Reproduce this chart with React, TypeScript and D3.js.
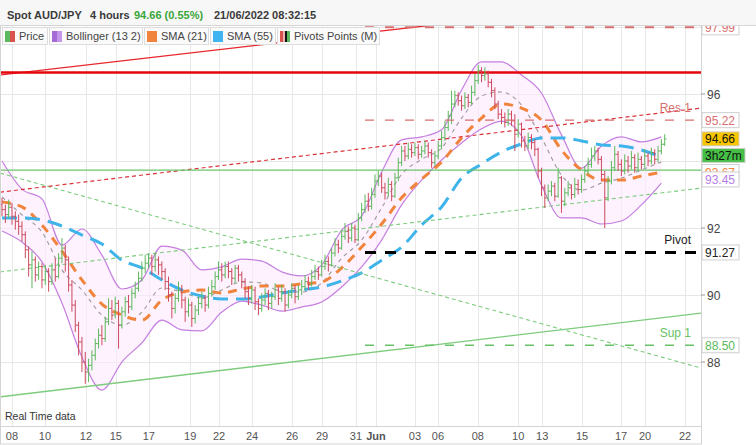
import React from 'react';
import * as d3 from 'd3';

// ---------- DATA ----------
const opens = [
  92.70, 92.55, 92.40, 92.62, 92.35, 92.20, 92.05, 91.80, 91.35, 90.90,
  91.05, 90.60, 90.85, 90.45, 90.70, 90.40, 90.75, 90.55, 91.10, 91.40,
  91.05, 90.30, 89.70, 89.10, 88.60, 88.00, 87.70, 87.90, 88.20, 88.55,
  88.80, 88.70, 89.20, 89.60, 89.40, 89.75, 89.10, 89.50, 89.80, 89.65,
  90.05, 90.20, 90.50, 90.80, 90.95, 91.10, 90.85, 91.05, 90.90, 90.70,
  90.40, 90.00, 89.60, 89.90, 90.15, 89.85, 89.50, 89.70, 89.30, 89.55,
  89.75, 89.90, 89.70, 90.05, 90.25, 90.55, 90.75, 90.60, 90.85, 90.70,
  90.50, 90.80, 90.60, 90.40, 90.10, 89.90, 90.15, 89.80, 89.60, 89.85,
  90.05, 89.75, 89.95, 90.15, 89.90, 90.10, 89.70, 90.00, 90.20, 89.95,
  90.15, 90.25, 90.40, 90.30, 90.55, 90.70, 90.60, 90.85, 91.00, 90.90,
  91.25, 91.50, 91.40, 91.75, 91.90, 91.70, 92.00, 91.65, 92.30, 92.55,
  92.80, 92.65, 93.00, 93.40, 93.55, 93.20, 93.05, 93.30, 92.95, 93.50,
  93.95, 94.30, 94.15, 94.35, 94.25, 94.40, 94.20, 94.30, 94.45, 94.25,
  93.95, 94.15, 94.45, 94.70, 95.00, 95.35, 95.70, 95.95, 95.80, 95.65,
  95.90, 95.75, 96.05, 96.40, 96.70, 96.55, 96.60, 96.35, 96.10, 95.70,
  95.40, 95.30, 95.15, 95.40, 95.20, 94.80, 95.10, 94.60, 94.45, 94.70,
  94.55, 94.35, 93.70, 93.20, 92.90, 93.10, 93.25, 92.95, 93.50, 92.80,
  93.05, 93.20, 93.00, 93.30, 93.15, 93.45, 93.70, 93.90, 94.15, 94.30,
  94.05, 93.60, 92.90, 93.40, 93.80, 94.20, 93.90, 93.70, 94.00, 93.85,
  94.10, 93.80, 94.05, 93.90, 94.15, 94.00, 94.25, 94.05, 94.30, 94.50,
];
const highs = [
  92.90, 92.70, 92.85, 92.75, 92.50, 92.40, 92.20, 91.90, 91.45, 91.30,
  91.15, 91.00, 90.95, 90.90, 90.80, 90.95, 91.10, 91.25, 91.70, 91.50,
  91.15, 90.45, 89.85, 89.20, 88.75, 88.30, 88.10, 88.35, 88.70, 89.00,
  89.10, 89.35, 89.90, 89.85, 89.95, 89.85, 89.65, 89.95, 90.00, 90.20,
  90.40, 90.70, 91.00, 91.20, 91.25, 91.20, 91.25, 91.15, 91.00, 90.80,
  90.55, 90.10, 90.05, 90.40, 90.30, 89.95, 89.90, 89.80, 89.70, 89.95,
  90.10, 90.00, 90.25, 90.45, 90.70, 91.00, 90.95, 91.00, 91.00, 90.80,
  90.90, 90.90, 90.70, 90.50, 90.25, 90.30, 90.25, 89.90, 90.05, 90.20,
  90.15, 90.10, 90.35, 90.25, 90.30, 90.20, 90.15, 90.35, 90.30, 90.30,
  90.45, 90.60, 90.55, 90.75, 90.90, 90.85, 91.05, 91.20, 91.15, 91.40,
  91.70, 91.65, 91.95, 92.15, 92.05, 92.15, 92.10, 92.45, 92.75, 93.00,
  93.05, 93.20, 93.60, 93.70, 93.65, 93.35, 93.50, 93.40, 93.65, 94.10,
  94.45, 94.45, 94.55, 94.50, 94.55, 94.50, 94.45, 94.60, 94.55, 94.35,
  94.30, 94.60, 94.90, 95.20, 95.50, 96.10, 96.10, 96.05, 95.95, 96.05,
  96.00, 96.25, 96.60, 96.87, 96.80, 96.80, 96.70, 96.45, 96.20, 95.80,
  95.55, 95.45, 95.55, 95.50, 95.40, 95.25, 95.15, 94.75, 94.85, 94.80,
  94.65, 94.40, 93.80, 93.30, 93.30, 93.40, 93.35, 93.80, 93.55, 93.20,
  93.40, 93.30, 93.50, 93.45, 93.60, 93.85, 94.10, 94.40, 94.45, 94.40,
  94.15, 93.70, 93.55, 94.00, 94.45, 94.30, 94.05, 94.20, 94.15, 94.30,
  94.20, 94.25, 94.15, 94.35, 94.25, 94.40, 94.35, 94.45, 94.65, 94.80,
];
const lows = [
  92.35, 92.15, 92.30, 92.10, 91.95, 91.80, 91.60, 91.10, 90.55, 90.20,
  90.40, 90.45, 90.20, 90.30, 90.10, 90.30, 90.40, 90.50, 90.95, 90.70,
  90.10, 89.50, 88.90, 88.20, 87.70, 87.35, 87.40, 87.75, 88.05, 88.40,
  88.50, 88.60, 89.10, 89.25, 89.30, 88.40, 89.00, 89.35, 89.45, 89.55,
  89.90, 90.10, 90.40, 90.65, 90.80, 90.60, 90.70, 90.60, 90.45, 90.15,
  89.80, 89.30, 89.45, 89.80, 89.60, 89.20, 89.35, 89.05, 89.15, 89.40,
  89.60, 89.50, 89.60, 89.95, 90.15, 90.45, 90.40, 90.50, 90.50, 90.30,
  90.35, 90.40, 90.20, 89.90, 89.70, 89.75, 89.55, 89.40, 89.50, 89.70,
  89.55, 89.60, 89.85, 89.70, 89.80, 89.50, 89.60, 89.90, 89.75, 89.85,
  90.00, 90.15, 90.15, 90.25, 90.45, 90.45, 90.55, 90.75, 90.70, 90.85,
  91.15, 91.25, 91.35, 91.65, 91.55, 91.60, 91.55, 91.60, 92.20, 92.45,
  92.50, 92.55, 92.90, 93.25, 93.05, 92.85, 92.95, 92.80, 92.90, 93.40,
  93.85, 94.00, 94.05, 94.10, 94.15, 94.05, 94.10, 94.20, 94.10, 93.80,
  93.85, 94.05, 94.35, 94.60, 94.90, 95.10, 95.60, 95.65, 95.50, 95.55,
  95.60, 95.70, 95.95, 96.30, 96.35, 96.40, 96.20, 95.90, 95.55, 95.25,
  95.10, 95.00, 95.05, 95.05, 94.30, 94.70, 94.40, 94.30, 94.35, 94.35,
  94.15, 93.50, 92.95, 92.60, 92.80, 92.95, 92.80, 92.90, 92.45, 92.65,
  92.95, 92.85, 92.90, 93.00, 93.05, 93.35, 93.60, 93.80, 94.00, 93.90,
  93.40, 92.00, 92.80, 93.30, 93.70, 93.70, 93.55, 93.60, 93.65, 93.75,
  93.65, 93.70, 93.75, 93.80, 93.85, 93.90, 93.90, 93.95, 94.20, 94.45,
];
const closes = [
  92.55, 92.40, 92.62, 92.35, 92.20, 92.05, 91.80, 91.35, 90.90, 91.05,
  90.60, 90.85, 90.45, 90.70, 90.40, 90.75, 90.55, 91.10, 91.40, 91.05,
  90.30, 89.70, 89.10, 88.60, 88.00, 87.70, 87.90, 88.20, 88.55, 88.80,
  88.70, 89.20, 89.60, 89.40, 89.75, 89.10, 89.50, 89.80, 89.65, 90.05,
  90.20, 90.50, 90.80, 90.95, 91.10, 90.85, 91.05, 90.90, 90.70, 90.40,
  90.00, 89.60, 89.90, 90.15, 89.85, 89.50, 89.70, 89.30, 89.55, 89.75,
  89.90, 89.70, 90.05, 90.25, 90.55, 90.75, 90.60, 90.85, 90.70, 90.50,
  90.80, 90.60, 90.40, 90.10, 89.90, 90.15, 89.80, 89.60, 89.85, 90.05,
  89.75, 89.95, 90.15, 89.90, 90.10, 89.70, 90.00, 90.20, 89.95, 90.15,
  90.25, 90.40, 90.30, 90.55, 90.70, 90.60, 90.85, 91.00, 90.90, 91.25,
  91.50, 91.40, 91.75, 91.90, 91.70, 92.00, 91.65, 92.30, 92.55, 92.80,
  92.65, 93.00, 93.40, 93.55, 93.20, 93.05, 93.30, 92.95, 93.50, 93.95,
  94.30, 94.15, 94.35, 94.25, 94.40, 94.20, 94.30, 94.45, 94.25, 93.95,
  94.15, 94.45, 94.70, 95.00, 95.35, 95.70, 95.95, 95.80, 95.65, 95.90,
  95.75, 96.05, 96.40, 96.70, 96.55, 96.60, 96.35, 96.10, 95.70, 95.40,
  95.30, 95.15, 95.40, 95.20, 94.80, 95.10, 94.60, 94.45, 94.70, 94.55,
  94.35, 93.70, 93.20, 92.90, 93.10, 93.25, 92.95, 93.50, 92.80, 93.05,
  93.20, 93.00, 93.30, 93.15, 93.45, 93.70, 93.90, 94.15, 94.30, 94.05,
  93.60, 92.90, 93.40, 93.80, 94.20, 93.90, 93.70, 94.00, 93.85, 94.10,
  93.80, 94.05, 93.90, 94.15, 94.00, 94.25, 94.05, 94.30, 94.50, 94.66,
];

// indicator values read every 6 bars (bar 0, 6, 12, ... 198)
const INDICATOR_STEP = 6;
const bbUpper = [94.00, 93.16, 92.87, 91.49, 91.97, 91.19, 90.18, 90.45, 91.46, 91.34, 90.75, 90.84, 91.07, 91.01, 90.69, 90.57, 90.90, 91.94, 92.36, 93.67, 94.63, 94.72, 94.93, 96.12, 96.96, 96.96, 96.57, 96.03, 94.78, 93.79, 94.45, 94.72, 94.57, 94.72];
const bbLower = [91.91, 91.58, 90.99, 89.76, 88.15, 87.16, 88.00, 88.57, 89.25, 88.96, 88.93, 89.49, 89.82, 89.70, 89.52, 89.64, 89.79, 90.24, 90.84, 91.64, 92.69, 93.43, 94.03, 94.54, 94.96, 95.19, 94.75, 93.28, 92.30, 92.30, 92.12, 92.21, 92.69, 93.34];
const bbMid = [92.93, 92.39, 91.88, 90.75, 90.15, 89.40, 89.10, 89.49, 90.21, 90.09, 89.91, 90.15, 90.39, 90.36, 90.09, 90.09, 90.36, 91.10, 91.64, 92.60, 93.60, 94.05, 94.39, 95.28, 95.94, 96.06, 95.67, 94.69, 93.58, 93.13, 93.34, 93.49, 93.73, 93.97];
const sma21 = [92.78, 92.63, 92.09, 91.31, 90.45, 89.73, 89.40, 89.25, 89.85, 90.09, 90.15, 90.06, 90.18, 90.27, 90.27, 90.33, 90.39, 90.81, 91.43, 92.12, 92.90, 93.46, 93.97, 94.69, 95.28, 95.70, 95.58, 95.22, 94.33, 93.73, 93.43, 93.43, 93.55, 93.67];
const sma55 = [92.30, 92.30, 92.24, 92.06, 91.79, 91.52, 91.04, 90.81, 90.45, 90.15, 89.97, 89.88, 89.88, 89.94, 90.06, 90.15, 90.24, 90.42, 90.66, 91.04, 91.43, 92.09, 92.63, 93.49, 93.91, 94.27, 94.51, 94.69, 94.69, 94.60, 94.48, 94.45, 94.33, 94.12];

// x axis ticks (bar index position) and labels
const tickLabels = ['08', '10', '12', '15', '17', '19', '22', '24', '26', '29', '31', 'Jun', '03', '06', '08', '10', '13', '15', '17', '20', '22'];
const tickIndex = [3.0, 12.9, 25.2, 34.2, 44.1, 56.5, 65.2, 75.1, 87.1, 96.1, 106.3, 112.3, 124.0, 130.9, 142.9, 155.0, 162.2, 174.2, 185.9, 193.1, 205.1];
const priceTicks = [88, 90, 92, 94, 96, 98];

// trend lines: value at the left edge and the right edge of the chart
const trendEnds = [-0.6, 209.9];
const redTrend = [96.57, 98.98];
const redDashTrend = [93.07, 95.58];
const greenTrend = [86.96, 89.46];
const greenDashUp = [90.69, 93.19];
const greenDashDown = [93.64, 87.82];
const greenLevel = 93.73;
const redLevel = 96.64;

// monthly pivots
const pivotStart = 109;
const pivotNames = ['Res 2', 'Res 1', 'Pivot', 'Sup 1'];
const pivotValues = [97.99, 95.22, 91.27, 88.5];
const pivotColors = ['#d86f6f', '#d86f6f', '#000000', '#66c266'];
const pivotWidths = [2, 1.4, 3, 1.4];

const lastPrice = 94.66;
const sma21Last = 93.67;
const bbLowerLast = 93.45;

const legendItems = ['Price', 'Bollinger (13 2)', 'SMA (21)', 'SMA (55)', 'Pivots Points (M)'];

const FONT = '"Liberation Sans", Arial, Helvetica, sans-serif';

export default function App() {
  const W = 756;
  const H = 445;
  const L = 1, R = 701, T = 26, B = 426;

  const x = d3.scaleLinear().domain([-0.6, 209.9]).range([0, 701]);
  const y = d3.scaleLinear().domain([86.09, 98.03]).range([426, 26]);

  const idx = bbUpper.map((_, k) => k * INDICATOR_STEP);
  const line = d3.line<number>().x((_, k) => x(idx[k])).y((d) => y(d)).curve(d3.curveMonotoneX);
  const area = d3
    .area<number>()
    .x((_, k) => x(idx[k]))
    .y0((_, k) => y(bbLower[k]))
    .y1((d) => y(d))
    .curve(d3.curveMonotoneX);

  const trend = (vals: number[]) => ({ x1: x(trendEnds[0]), y1: y(vals[0]), x2: x(trendEnds[1]), y2: y(vals[1]) });

  const green = '#5cb85c';
  const red = '#cc4a5e';

  const legendX = [2, 49, 144, 210, 277];
  const legendW = [45, 93, 64, 65, 102];

  // boxed values on the right axis
  const boxedValues = [...pivotValues, sma21Last, bbLowerLast, lastPrice];
  const visibleTicks = priceTicks.filter((p) => boxedValues.every((v) => Math.abs(y(v) - y(p)) > 9 || Math.abs(y(p) - y(lastPrice) - 16.5) < 0) && Math.abs(y(p) - (y(lastPrice) + 16.5)) > 9);

  const boxLabel = (v: number, color: string, key: string, fill = '#ffffff', text?: string, w = 37, dy = 0, h = 15) => {
    const cy = y(v) + dy;
    return (
      <g key={key}>
        <rect x={702} y={cy - h / 2} width={w} height={h} fill={fill} stroke="#cfcfcf" strokeWidth={1} />
        <text x={705} y={cy + 4.5} fontSize={12} fill={color} fontFamily={FONT}>
          {text ?? v.toFixed(2)}
        </text>
      </g>
    );
  };

  return (
    <svg width={W} height={H} style={{ position: 'absolute', left: 0, top: 0, background: '#fff' }} fontFamily={FONT}>
      <defs>
        <clipPath id="plotClip">
          <rect x={L} y={T} width={R - L} height={B - T} />
        </clipPath>
        <clipPath id="axisClip">
          <rect x={R} y={T} width={W - R} height={B - T + 10} />
        </clipPath>
      </defs>
      <rect x={0} y={0} width={W} height={H} fill="#ffffff" />
      {/* header */}
      <rect x={0} y={0} width={W} height={T} fill="#f7f7f7" />
      <line x1={0} x2={W} y1={T - 0.5} y2={T - 0.5} stroke="#d8d8d8" />
      <text x={7} y={19} fontSize={11} fontWeight="bold" fill="#3a3a3a">Spot AUD/JPY</text>
      <text x={90} y={19} fontSize={11} fontWeight="bold" fill="#3a3a3a">4 hours</text>
      <text x={134} y={19} fontSize={11} fontWeight="bold" fill="#3aa53a">94.66 (0.55%)</text>
      <text x={214} y={19} fontSize={11} fontWeight="bold" fill="#3a3a3a">21/06/2022 08:32:15</text>

      {/* frame */}
      <rect x={L - 0.5} y={T - 0.5} width={R - L + 1} height={H - T - 0.5} fill="none" stroke="#d4d4d4" />
      <line x1={L} x2={R} y1={B + 0.5} y2={B + 0.5} stroke="#d4d4d4" />

      {/* grid */}
      {tickIndex.map((t, k) => (
        <line key={'vg' + k} x1={Math.round(x(t)) + 0.5} x2={Math.round(x(t)) + 0.5} y1={T} y2={B} stroke="#e8e8e8" />
      ))}
      {priceTicks.map((p) => (
        <line key={'hg' + p} x1={L} x2={R} y1={Math.round(y(p)) + 0.5} y2={Math.round(y(p)) + 0.5} stroke="#e6e6e6" />
      ))}

      <g clipPath="url(#plotClip)">
        {/* bollinger fill */}
        <path d={area(bbUpper) ?? ''} fill="#fbeafb" fillOpacity={0.6} />
        <path d={line(bbUpper) ?? ''} fill="none" stroke="#c57fe0" strokeWidth={1.2} />
        <path d={line(bbLower) ?? ''} fill="none" stroke="#c57fe0" strokeWidth={1.2} />
        <path d={line(bbMid) ?? ''} fill="none" stroke="#9a9a9a" strokeWidth={1.1} strokeDasharray="4,4" />
        <path d={line(sma21) ?? ''} fill="none" stroke="#f0843c" strokeWidth={3} strokeDasharray="9,7" />
        <path d={line(sma55) ?? ''} fill="none" stroke="#3fb4ea" strokeWidth={3} strokeDasharray="15,8" />

        {/* trend lines */}
        <line {...trend(greenTrend)} stroke="#7dcc7d" strokeWidth={1.3} />
        <line {...trend(greenDashUp)} stroke="#7dcc7d" strokeWidth={1.1} strokeDasharray="4,3" />
        <line {...trend(greenDashDown)} stroke="#7dcc7d" strokeWidth={1.1} strokeDasharray="4,3" />
        <line {...trend(redDashTrend)} stroke="#d9343a" strokeWidth={1.2} strokeDasharray="4,3" />
        <line {...trend(redTrend)} stroke="#e8262b" strokeWidth={1.3} />
        <line x1={L} x2={R} y1={y(greenLevel)} y2={y(greenLevel)} stroke="#6cc56c" strokeWidth={1.2} />
        <line x1={L} x2={R} y1={y(redLevel)} y2={y(redLevel)} stroke="#e3060c" strokeWidth={2.6} />

        {/* price bars */}
        {closes.map((c, i) => {
          const o = opens[i];
          const col = c >= o ? green : red;
          const cx = x(i);
          return (
            <g key={'b' + i} stroke={col} strokeWidth={1}>
              <line x1={cx} x2={cx} y1={y(highs[i])} y2={y(lows[i])} />
              <line x1={cx - 1.7} x2={cx} y1={y(o)} y2={y(o)} />
              <line x1={cx} x2={cx + 1.7} y1={y(c)} y2={y(c)} />
            </g>
          );
        })}

        {/* pivots */}
        {pivotValues.map((v, k) => (
          <g key={'pv' + k}>
            <line
              x1={x(pivotStart)}
              x2={R}
              y1={y(v)}
              y2={y(v)}
              stroke={pivotColors[k]}
              strokeWidth={pivotWidths[k]}
              strokeDasharray={k === 2 ? '11,9' : '9,11'}
            />
            <text x={691} y={y(v) - 8} fontSize={12} textAnchor="end" fill={pivotColors[k] === '#000000' ? '#222' : pivotColors[k]}>
              {pivotNames[k]}
            </text>
          </g>
        ))}
      </g>

      {/* right axis */}
      <g clipPath="url(#axisClip)">
        {priceTicks.map((p) => (
          <line key={'ytl' + p} x1={R} x2={R + 4} y1={y(p)} y2={y(p)} stroke="#999" />
        ))}
        {visibleTicks.map((p) => (
          <text key={'yt' + p} x={707} y={y(p) + 4.5} fontSize={12} fill="#444">{p}</text>
        ))}
        {boxLabel(pivotValues[0], '#d86f6f', 'r2')}
        {boxLabel(pivotValues[1], '#d86f6f', 'r1')}
        {boxLabel(pivotValues[2], '#222', 'pp')}
        {boxLabel(pivotValues[3], '#5cb85c', 's1')}
        {boxLabel(sma21Last, '#f0843c', 'sma21')}
        {boxLabel(bbLowerLast, '#b67ee6', 'bbl')}
        {boxLabel(lastPrice, '#111', 'last', '#f7c600', undefined, 37, 0, 14)}
        {boxLabel(lastPrice, '#111', 'timer', '#45bf45', '3h27m', 43, 16.5, 14)}
      </g>

      {/* x axis labels */}
      {tickIndex.map((t, k) => (
        <text
          key={'xt' + k}
          x={x(t)}
          y={440}
          fontSize={11}
          textAnchor="middle"
          fill="#555"
          fontWeight={tickLabels[k] === 'Jun' ? 'bold' : 'normal'}
        >
          {tickLabels[k]}
        </text>
      ))}

      <text x={5} y={420} fontSize={10.5} fill="#333">Real Time data</text>

      {/* legend */}
      {legendItems.map((name, k) => (
        <g key={'lg' + k}>
          <rect x={legendX[k] + 0.5} y={T + 1.5} width={legendW[k]} height={17} fill="#fafafa" stroke="#dddddd" />
          <text x={legendX[k] + 17} y={T + 14} fontSize={11} fill="#444">{name}</text>
        </g>
      ))}
      {/* legend swatches */}
      <rect x={5} y={31} width={5} height={11} fill="#5cb85c" />
      <rect x={10} y={31} width={5} height={11} fill="#d9534f" />
      <rect x={52} y={31} width={5} height={11} fill="#a56ad6" />
      <rect x={57} y={31} width={5} height={11} fill="#c497ea" />
      <rect x={147} y={31} width={10} height={11} fill="#f0843c" />
      <rect x={213} y={31} width={10} height={11} fill="#40b4f0" />
      <rect x={280} y={31} width={3} height={11} fill="#d9534f" />
      <rect x={283} y={31} width={2} height={11} fill="#f0b0b0" />
      <rect x={285} y={31} width={2} height={11} fill="#111" />
      <rect x={287} y={31} width={3} height={11} fill="#5cb85c" />
    </svg>
  );
}
